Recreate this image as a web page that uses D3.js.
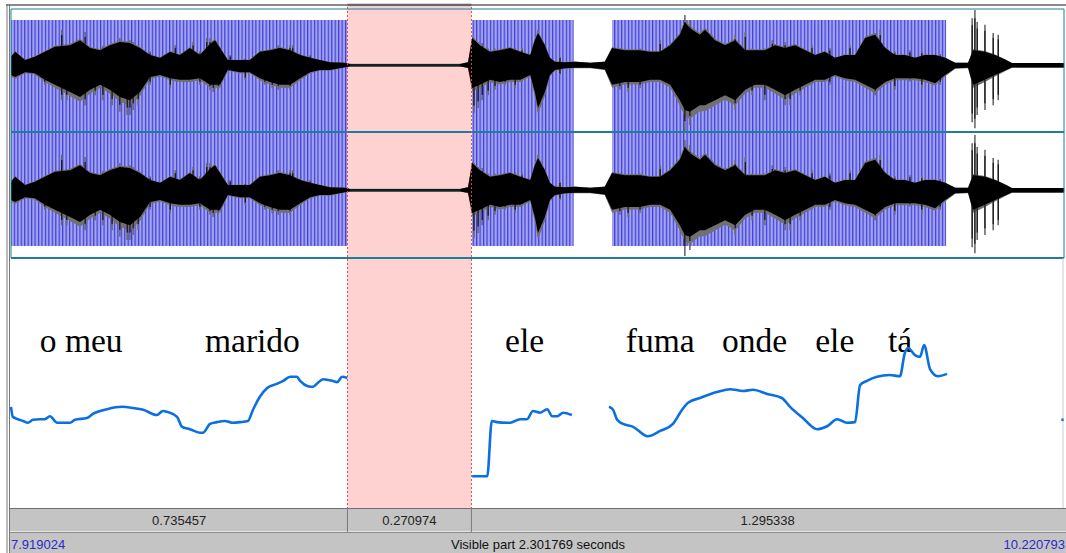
<!DOCTYPE html>
<html>
<head>
<meta charset="utf-8">
<script src="https://cdn.jsdelivr.net/npm/d3@7"></script>
<style>
  body { margin: 0; background: #fff; }
  svg { display: block; }
</style>
</head>
<body>
<svg id="chart" width="1066" height="553"></svg>
<script>
// visible window and selection (seconds)
const viewStart = 7.919024
const viewEnd = 10.220793
const selStart = 8.654481
const selEnd = 8.925455
const intervalLabels = ["0.735457", "0.270974", "1.295338"]
const visibleLabel = "Visible part 2.301769 seconds"

// voiced stretches with pulses (seconds from window start)
const pulseRegions = [[0.000, 0.735], [1.008, 1.230], [1.314, 2.044]]

// words on the tier: [time of left edge, text]
const words = [
  [0.063, "o meu"], [0.424, "marido"], [1.080, "ele"], [1.344, "fuma"],
  [1.554, "onde"], [1.758, "ele"], [1.917, "tá"]
]

// pitch contour segments: [time, Hz]
const pitchSegments = [
  [[0.000,247],[0.004,230],[0.015,226],[0.026,223],[0.037,220],[0.048,225],[0.063,226],[0.074,226],
   [0.085,231],[0.101,220],[0.129,220],[0.140,225],[0.166,228],[0.179,235],[0.210,243],[0.243,247],
   [0.267,245],[0.289,242],[0.319,233],[0.332,240],[0.343,238],[0.363,230],[0.374,213],[0.391,209],
   [0.413,203],[0.420,203],[0.435,218],[0.450,221],[0.468,223],[0.483,220],[0.501,221],[0.518,223],
   [0.529,242],[0.544,264],[0.560,279],[0.581,286],[0.595,291],[0.610,298],[0.625,298],[0.632,291],
   [0.649,282],[0.660,281],[0.671,288],[0.682,294],[0.704,291],[0.713,289],[0.724,298],[0.735,296]],
  [[1.008,129],[1.041,129],[1.051,223],[1.062,221],[1.084,220],[1.091,220],[1.113,226],[1.128,226],
   [1.141,240],[1.156,237],[1.172,243],[1.183,231],[1.194,231],[1.207,237],[1.226,233]],
  [[1.307,247],[1.316,242],[1.325,225],[1.338,218],[1.360,213],[1.392,197],[1.419,206],[1.447,218],
   [1.467,242],[1.480,254],[1.506,262],[1.543,272],[1.572,277],[1.600,274],[1.622,276],[1.653,269],
   [1.685,262],[1.703,247],[1.731,228],[1.762,209],[1.784,214],[1.806,226],[1.827,220],[1.845,221],
   [1.856,284],[1.871,291],[1.893,298],[1.921,301],[1.943,299],[1.954,339],[1.961,347],[1.976,335],
   [1.987,332],[1.996,352],[2.009,311],[2.026,299],[2.046,303]],
  [[2.296,225],[2.301,225]]
]

// waveform envelope: [time, upper amplitude, lower amplitude]
const envelope = [
  [0.000,.15,-.18],[0.009,.24,-.22],[0.031,.09,-.13],[0.052,.15,-.15],[0.074,.24,-.27],[0.096,.33,-.36],
  [0.129,.36,-.49],[0.151,.45,-.58],[0.173,.31,-.45],[0.195,.27,-.36],[0.216,.36,-.45],[0.238,.42,-.58],
  [0.260,.40,-.64],[0.282,.31,-.49],[0.304,.18,-.22],[0.326,.13,-.18],[0.348,.24,-.24],[0.369,.18,-.27],
  [0.391,.31,-.27],[0.413,.18,-.24],[0.435,.38,-.36],[0.446,.45,-.36],[0.457,.31,-.36],[0.474,.09,-.09],
  [0.501,.09,-.13],[0.522,.09,-.13],[0.544,.24,-.24],[0.566,.27,-.31],[0.588,.31,-.36],[0.610,.27,-.36],
  [0.632,.18,-.24],[0.654,.13,-.13],[0.675,.09,-.09],[0.697,.05,-.09],[0.730,.04,-.04],[0.741,.02,-.025],
  [0.982,.02,-.025],[0.999,.05,-.05],[1.008,.49,-.42],[1.025,.36,-.36],[1.047,.24,-.27],[1.069,.27,-.31],
  [1.091,.31,-.27],[1.113,.24,-.27],[1.135,.18,-.18],[1.145,.45,-.49],[1.152,.58,-.78],[1.167,.36,-.49],
  [1.178,.13,-.18],[1.189,.06,-.09],[1.211,.05,-.06],[1.233,.06,-.05],[1.266,.04,-.05],[1.298,.06,-.08],
  [1.314,.31,-.36],[1.342,.27,-.31],[1.375,.27,-.31],[1.397,.24,-.27],[1.419,.24,-.27],[1.441,.36,-.36],
  [1.462,.55,-.64],[1.473,.78,-.82],[1.484,.67,-.85],[1.506,.55,-.73],[1.517,.64,-.73],[1.539,.45,-.64],
  [1.561,.36,-.55],[1.583,.45,-.64],[1.605,.27,-.45],[1.626,.27,-.36],[1.648,.27,-.36],[1.670,.36,-.45],
  [1.692,.31,-.55],[1.714,.36,-.45],[1.736,.27,-.36],[1.758,.18,-.27],[1.779,.24,-.27],[1.801,.13,-.18],
  [1.823,.18,-.24],[1.845,.18,-.27],[1.867,.49,-.36],[1.889,.55,-.45],[1.911,.31,-.31],[1.932,.18,-.24],
  [1.954,.18,-.24],[1.976,.13,-.24],[1.998,.18,-.27],[2.020,.18,-.33],[2.042,.13,-.18],[2.064,.04,-.06],
  [2.092,.04,-.05],[2.103,.27,-.36],[2.129,.24,-.27],[2.151,.18,-.18],[2.173,.10,-.10],[2.188,.035,-.045],
  [2.302,.035,-.045]
]

// isolated peaks: [time, top amplitude, bottom amplitude]
const peaks = [
  [0.074,.25,-.36],[0.111,.64,-.64],[0.122,.30,-.64],[0.140,.35,-.55],[0.162,.60,-.73],[0.184,.30,-.55],
  [0.201,.35,-.64],[0.221,.38,-.73],[0.238,.49,-.85],[0.254,.40,-.91],[0.260,.45,-.91],[0.267,.42,-.82],
  [0.278,.35,-.73],[0.304,.25,-.36],[0.348,.25,-.42],[0.359,.36,-.30],[0.398,.42,-.30],[0.413,.25,-.36],
  [0.428,.49,-.35],[0.435,.49,-.45],[0.442,.35,-.49],[0.453,.35,-.45],[0.479,.18,-.10],[0.512,.12,-.27],
  [0.555,.25,-.36],[0.571,.28,-.42],[0.584,.36,-.45],[0.599,.30,-.42],[0.610,.36,-.45],[0.616,.36,-.30],
  [0.632,.22,-.27],[0.654,.18,-.15],
  [1.012,.49,-.87],[1.021,.42,-.78],[1.030,.40,-.64],[1.043,.30,-.55],[1.058,.30,-.45],[1.080,.30,-.36],
  [1.102,.32,-.42],[1.117,.31,-.30],[1.152,.64,-.85],[1.167,.30,-.49],[1.200,.15,-.18],
  [1.331,.30,-.45],[1.349,.27,-.49],[1.375,.30,-.42],[1.419,.45,-.30],[1.454,.40,-.55],[1.473,.91,-1.2],
  [1.484,.82,-1.09],[1.500,.50,-.78],[1.517,.67,-.82],[1.532,.55,-.73],[1.554,.40,-.64],[1.583,.55,-.82],
  [1.605,.60,-.45],[1.620,.30,-.55],[1.648,.30,-.64],[1.664,.45,-.40],[1.692,.42,-.73],[1.703,.35,-.73],
  [1.725,.30,-.55],[1.751,.36,-.35],[1.790,.31,-.36],[1.834,.36,-.30],[1.889,.58,-.55],[1.900,.64,-.40],
  [1.932,.25,-.45],[1.965,.27,-.30],[1.991,.25,-.42],[2.031,.20,-.36],
  [2.101,.85,-1.04],[2.107,1.0,-1.15],[2.112,.78,-.91],[2.129,.73,-.82],[2.147,.58,-.73],[2.158,.55,-.64]
]

const svg = d3.select("#chart")
const W = 1066, H = 553
const left = 11, right = 1064
const sndTop = 9, chanSplit = 132, sndBottom = 258, tierBottom = 508

const x = d3.scaleLinear().domain([0, viewEnd - viewStart]).range([left, right])
const yPitch = d3.scaleLinear().domain([75, 500]).range([tierBottom, sndBottom])
const amp = d3.scaleLinear().domain([-1, 1]).range([55, -55])
const channels = [65, 190]

svg.append("rect").attr("width", W).attr("height", H).attr("fill", "#fff")

// pulse stripes
const defs = svg.append("defs")
const pat = defs.append("pattern").attr("id", "pulses")
  .attr("patternUnits", "userSpaceOnUse").attr("width", 3.45).attr("height", 10)
pat.append("rect").attr("width", 3.45).attr("height", 10).attr("fill", "#7c7ce9")
pat.append("rect").attr("x", 0).attr("width", 0.9).attr("height", 10).attr("fill", "#2020d2").attr("opacity", 0.65)
pat.append("rect").attr("x", 2.2).attr("width", 0.7).attr("height", 10).attr("fill", "#fff").attr("opacity", 0.7)

// selection
const sx0 = x(selStart - viewStart), sx1 = x(selEnd - viewStart)
svg.append("rect").attr("x", sx0).attr("y", 7).attr("width", sx1 - sx0).attr("height", tierBottom - 7)
  .attr("fill", "#ffd2d2")

svg.selectAll(".pulse").data(pulseRegions).join("rect")
  .attr("class", "pulse")
  .attr("x", d => x(d[0])).attr("width", d => x(d[1]) - x(d[0]))
  .attr("y", 20).attr("height", 226)
  .attr("fill", "url(#pulses)")

// waveforms
channels.forEach(c => {
  const g = svg.append("g").attr("transform", `translate(0,${c})`)
  const outer = d3.area().x(d => x(d[0])).y0(d => amp(d[2] * 1.15)).y1(d => amp(d[1] * 1.06))
  const inner = d3.area().x(d => x(d[0])).y0(d => amp(d[2])).y1(d => amp(d[1]))
  g.selectAll(".pk").data(peaks).join("line")
    .attr("class", "pk")
    .attr("x1", d => x(d[0])).attr("x2", d => x(d[0]))
    .attr("y1", d => amp(d[1])).attr("y2", d => amp(d[2]))
    .attr("stroke", "#6a6a6a").attr("stroke-width", 1.6)
  g.append("path").attr("d", outer(envelope)).attr("fill", "#707070")
  g.append("path").attr("d", inner(envelope)).attr("fill", "#000")
  g.selectAll(".pk2").data(peaks).join("line")
    .attr("class", "pk2")
    .attr("x1", d => x(d[0])).attr("x2", d => x(d[0]))
    .attr("y1", d => amp(d[1] * 0.85)).attr("y2", d => amp(d[2] * 0.85))
    .attr("stroke", "#000").attr("stroke-width", 1)
  g.append("line").attr("x1", x(0.741)).attr("x2", x(0.982)).attr("y1", 0).attr("y2", 0)
    .attr("stroke", "#1d5a5a").attr("stroke-width", 0.8)
})

// frame lines
const teal = "#1e7c9c"
svg.append("line").attr("x1", 6).attr("x2", W).attr("y1", 5).attr("y2", 5).attr("stroke", "#8a8a8a").attr("stroke-width", 2)
svg.append("line").attr("x1", sx0).attr("x2", sx1).attr("y1", 5).attr("y2", 5).attr("stroke", "#666").attr("stroke-width", 2.5)
;[sndTop, chanSplit, sndBottom].forEach((yy, i) => {
  svg.append("line").attr("x1", left).attr("x2", right).attr("y1", yy).attr("y2", yy)
    .attr("stroke", teal).attr("stroke-width", i === 0 ? 1 : 2)
})
svg.append("line").attr("x1", left).attr("x2", left).attr("y1", sndTop).attr("y2", sndBottom).attr("stroke", teal)
svg.append("line").attr("x1", right).attr("x2", right).attr("y1", sndTop).attr("y2", sndBottom).attr("stroke", teal)
svg.append("line").attr("x1", right - 1).attr("x2", right - 1).attr("y1", sndBottom).attr("y2", tierBottom).attr("stroke", "#ccc")
;[7, 9.5].forEach(xx => {
  svg.append("line").attr("x1", xx).attr("x2", xx).attr("y1", 4).attr("y2", H).attr("stroke", "#777").attr("stroke-width", 1)
})

// selection borders
;[sx0, sx1].forEach(xx => {
  svg.append("line").attr("x1", xx).attr("x2", xx).attr("y1", 7).attr("y2", tierBottom)
    .attr("stroke", "#e04848").attr("stroke-width", 1).attr("stroke-dasharray", "2,2")
})

// words
svg.selectAll(".word").data(words).join("text")
  .attr("class", "word")
  .attr("x", d => x(d[0])).attr("y", 352)
  .attr("font-family", "'Liberation Serif', 'Times New Roman', serif")
  .attr("font-size", 33.5).attr("fill", "#000")
  .text(d => d[1])

// pitch
const pitchLine = d3.line().x(d => x(d[0])).y(d => yPitch(d[1])).curve(d3.curveMonotoneX)
svg.selectAll(".pitch").data(pitchSegments).join("path")
  .attr("class", "pitch")
  .attr("d", pitchLine)
  .attr("fill", "none").attr("stroke", "#0a6fe0").attr("stroke-width", 2.6)
  .attr("stroke-linejoin", "round")

// bottom bar
const font = "'Liberation Sans', Arial, sans-serif"
const barG = svg.append("g")
barG.append("rect").attr("x", 10).attr("y", tierBottom).attr("width", W - 10).attr("height", H - tierBottom).attr("fill", "#c4c4c4")
barG.append("line").attr("x1", 10).attr("x2", W).attr("y1", tierBottom + 0.5).attr("y2", tierBottom + 0.5).attr("stroke", "#6e6e6e")
barG.append("line").attr("x1", 10).attr("x2", W).attr("y1", 532.5).attr("y2", 532.5).attr("stroke", "#8a8a8a")
barG.append("line").attr("x1", 10).attr("x2", W).attr("y1", 531.5).attr("y2", 531.5).attr("stroke", "#e6e6e6")
const bounds = [0, selStart - viewStart, selEnd - viewStart, viewEnd - viewStart]
;[bounds[1], bounds[2]].forEach(b => {
  barG.append("line").attr("x1", x(b)).attr("x2", x(b)).attr("y1", tierBottom).attr("y2", 532)
    .attr("stroke", "#7a7a7a")
})
barG.selectAll(".dur").data(intervalLabels).join("text")
  .attr("class", "dur")
  .attr("x", (d, i) => (x(bounds[i]) + x(bounds[i + 1])) / 2)
  .attr("y", 525).attr("text-anchor", "middle")
  .attr("font-family", font).attr("font-size", 13)
  .attr("fill", "#222").text(d => d)
barG.append("text").attr("x", 11).attr("y", 549).attr("font-family", font).attr("font-size", 13)
  .attr("fill", "#2a2acc").text(viewStart.toFixed(6))
barG.append("text").attr("x", 1065).attr("y", 549).attr("text-anchor", "end").attr("font-family", font).attr("font-size", 13)
  .attr("fill", "#2a2acc").text(viewEnd.toFixed(6))
barG.append("text").attr("x", 538).attr("y", 549).attr("text-anchor", "middle").attr("font-family", font).attr("font-size", 13)
  .attr("fill", "#111").text(visibleLabel)
</script>
</body>
</html>
